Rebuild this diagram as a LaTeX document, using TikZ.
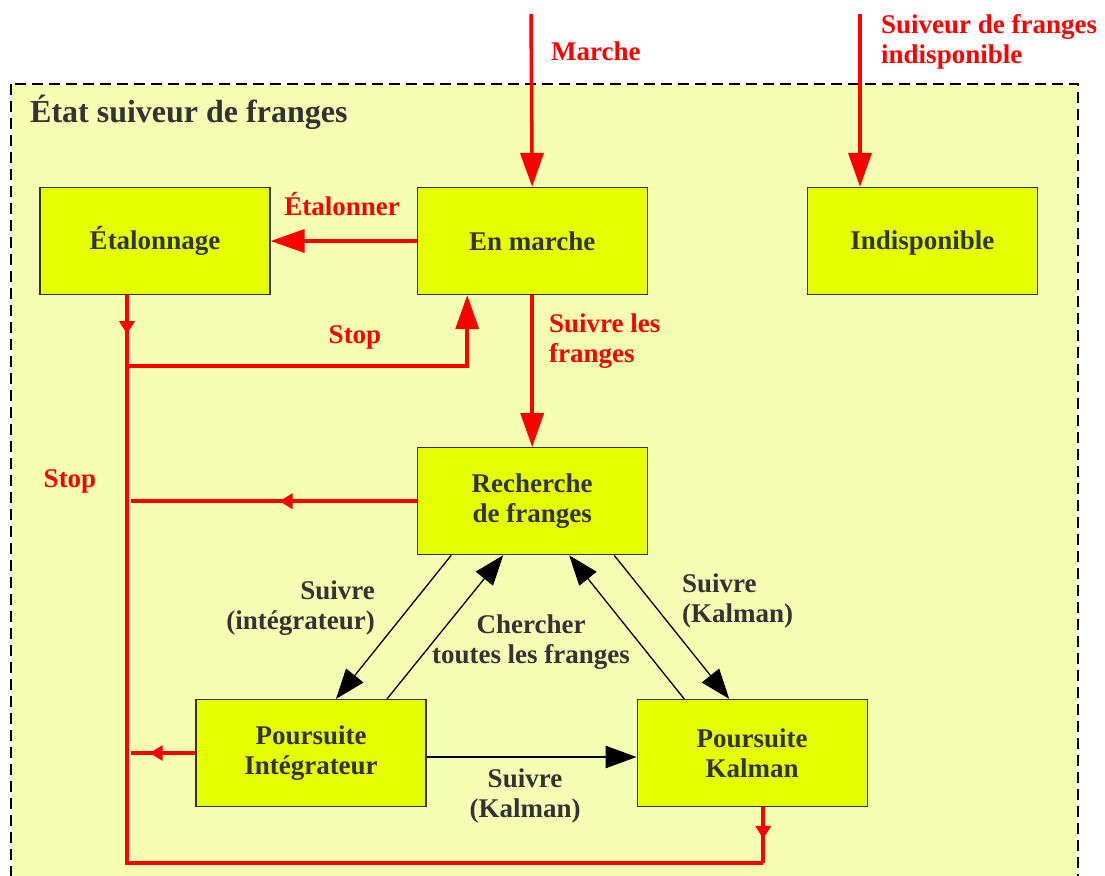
\documentclass[tikz,border=0pt]{standalone}
\usepackage{fontspec}
\setmainfont{Liberation Serif}
\usepackage{xcolor}
\usetikzlibrary{arrows.meta,positioning,decorations.markings}
\definecolor{zonefill}{HTML}{F4FFB4}
\definecolor{statefill}{HTML}{E6FF00}
\definecolor{inktext}{HTML}{333333}
\definecolor{stopred}{HTML}{FF0000}
\newcommand{\lbl}{\fontsize{27}{30}\selectfont\bfseries}
\tikzset{%
  % classes
  state/.style={draw=inktext, line width=1.2pt, fill=statefill, text=inktext,
    minimum width=230pt, minimum height=107pt, align=center, inner sep=0pt, font=\lbl},
  ctrl/.style={text=stopred, font=\lbl, inner sep=0pt},
  note/.style={text=inktext, font=\lbl, inner sep=0pt},
  % edge styles
  cmd/.style={draw=stopred, line width=3.5pt, -{Triangle[length=34pt,width=23pt]}},
  stopline/.style={draw=stopred, line width=3.5pt},
  trans/.style={draw=black, line width=1.3pt, -{Triangle[length=30pt,width=22pt]}},
  midtip/.style={postaction={decorate}, decoration={markings,
    mark=at position #1 with {\arrow{Triangle[length=13pt,width=15pt]}}}},
}

\begin{document}
\begin{tikzpicture}[x=1pt, y=-1pt]
  \useasboundingbox (0,0) rectangle (1105,875);
  \clip (0,0) rectangle (1105,875);

  % Zone
  \draw[fill=zonefill, line width=2.6pt, dash pattern=on 11pt off 6pt] (11,84) rectangle (1078,920);
  \node[note, anchor=base west, font=\fontsize{32}{36}\selectfont\bfseries] (title) at (30,122) {État suiveur de franges};

  % States
  \node[state] (etal) at (155,241) {Étalonnage};
  \node[state, right=146pt of etal] (enmarche) {En marche};
  \node[state, right=159pt of enmarche] (indispo) {\vphantom{É}Indisponible};
  \node[state, below=152pt of enmarche] (recherche) {Recherche\\de franges};
  \node[state] (integ) at (311,753) {Poursuite\\Intégrateur};
  \node[state, right=210pt of integ] (kalman) {Poursuite\\Kalman};

  % Junctions
  \coordinate (marchein) at (531,14);
  \coordinate (indispoin) at (860,14);
  \coordinate (jtop) at (127,366);
  \coordinate (jbot) at (127,863);
  \coordinate (jkal) at ([xshift=11pt]kalman.south |- jbot);
  \coordinate (jrech) at (recherche.west -| 131,0);
  \coordinate (jinteg) at (integ.west -| jrech);

  % Commands
  \draw[cmd] (marchein) -- (enmarche.north);
  \draw[cmd] (indispoin) -- (indispoin |- indispo.north);
  \draw[cmd] (enmarche.west) -- (etal.east);
  \draw[cmd] (enmarche.south) -- (recherche.north);

  % Stop
  \draw[stopline, midtip=0.55] ([xshift=-28pt]etal.south) -- (jtop);
  \draw[cmd] (jtop) -| ([xshift=-65pt]enmarche.south);
  \draw[stopline, midtip=0.57] ([xshift=11pt]kalman.south) -- (jkal);
  \draw[stopline] (jkal) -- (jbot) -- (jtop);
  \draw[stopline, midtip=0.48] (recherche.west) -- (jrech);
  \draw[stopline, midtip=0.71] (integ.west) -- (jinteg);

  % Tracking
  \draw[trans] ([xshift=-81pt]recherche.south) -- ([xshift=25pt]integ.north);
  \draw[trans] ([xshift=76pt]integ.north) -- ([xshift=-29pt]recherche.south);
  \draw[trans] ([xshift=-68pt]kalman.north) -- ([xshift=37pt]recherche.south);
  \draw[trans] ([xshift=82pt]recherche.south) -- ([xshift=-23pt]kalman.north);
  \draw[trans, line width=2.7pt, -{Triangle[length=31pt,width=22pt]}]
    ([yshift=-4pt]integ.east) -- ([yshift=-4pt]kalman.west);

  % Labels
  \node[ctrl, anchor=base west] (lmarche) at (551,60) {Marche};
  \node[ctrl, anchor=west, align=left] (lindispo) at (881,42) {Suiveur de franges\\indisponible};
  \node[ctrl, anchor=base] (letal) at (342,215) {Étalonner};
  \node[ctrl, anchor=base] (lstop1) at (355,343) {Stop};
  \node[ctrl, anchor=base] (lstop2) at (70,487) {Stop};
  \node[ctrl, anchor=west, align=left] (lsuivre) at (549,341) {Suivre les\\franges};
  \node[note, anchor=east, align=right] (linteg) at (375,608) {Suivre\\(intégrateur)};
  \node[note, align=center] (lchercher) at (531,642) {Chercher\\toutes les franges};
  \node[note, anchor=west, align=left] (lkal1) at (682,601) {Suivre\\(Kalman)};
  \node[note, align=center] (lkal2) at (525,796) {Suivre\\(Kalman)};
\end{tikzpicture}
\end{document}
